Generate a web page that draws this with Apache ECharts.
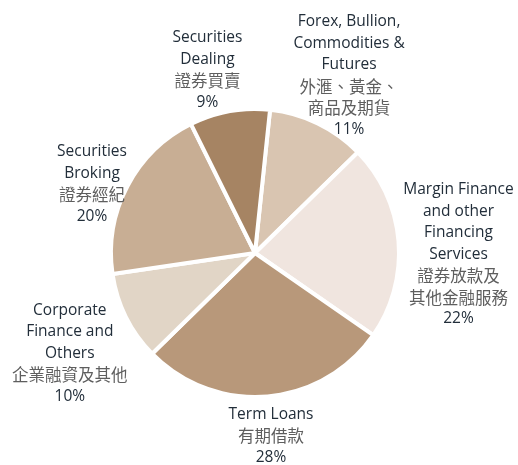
<!DOCTYPE html>
<html>
<head>
<meta charset="utf-8">
<script src="https://cdn.jsdelivr.net/npm/echarts@6/dist/echarts.min.js"></script>
<style>
  html, body { margin: 0; padding: 0; background: #fff; }
  #main { width: 518px; height: 465px; }
</style>
</head>
<body>
<div id="main"></div>
<script>
// segment shares, clockwise from the top
const namesEn = [
  'Forex, Bullion,\nCommodities &\nFutures',
  'Margin Finance\nand other\nFinancing\nServices',
  'Term Loans',
  'Corporate\nFinance and\nOthers',
  'Securities\nBroking',
  'Securities\nDealing'
]
const namesZh = [
  '外滙、黃金、\n商品及期貨',
  '證券放款及\n其他金融服務',
  '有期借款',
  '企業融資及其他',
  '證券經紀',
  '證券買賣'
]
const shares = [11, 22, 28, 10, 20, 9]
const colors = ['#d9c5b1', '#f0e5df', '#b8987a', '#e1d5c6', '#c8ae94', '#a68463']

const START = 84
const CX = 255
const CY = 253
const R = 144
const GAP = 5
// hand nudges for the label blocks [dx, dy]
const nudge = [[5, 15], [0, 20], [0, 2], [0, 10], [0, 20], [-15, 6]]

// mid angle of every slice, from the shares
const mids = []
let acc = START
shares.forEach((v) => {
  const a = v / 100 * 360
  mids.push(acc - a / 2)
  acc -= a
})

const chart = echarts.init(document.getElementById('main'))
chart.setOption({
  animation: false,
  series: [
    {
      type: 'pie',
      center: [CX, CY],
      radius: R,
      startAngle: START,
      clockwise: true,
      avoidLabelOverlap: false,
      itemStyle: { borderColor: '#fff', borderWidth: 4 },
      emphasis: { disabled: true },
      label: {
        show: true,
        position: 'outside',
        lineHeight: 21.5,
        formatter: p => `{en|${namesEn[p.dataIndex]}}\n{zh|${namesZh[p.dataIndex]}}\n{en|${p.value}%}`,
        rich: {
          en: { fontFamily: '"Open Sans", sans-serif', fontSize: 15.5, fontWeight: 500, color: '#222e3a', lineHeight: 21.5 },
          zh: { fontFamily: '"Noto Sans CJK TC", sans-serif', fontSize: 16.5, color: '#5e5e5e', lineHeight: 21.5 }
        }
      },
      labelLine: { show: false },
      labelLayout: (p) => {
        const i = p.dataIndex
        const t = mids[i] * Math.PI / 180
        const ux = Math.cos(t)
        const uy = -Math.sin(t)
        const w = p.labelRect.width
        const h = p.labelRect.height
        return {
          x: CX + ux * (R + GAP) + ux * w / 2 + nudge[i][0],
          y: CY + uy * (R + GAP) + uy * h / 2 + nudge[i][1],
          align: 'center',
          verticalAlign: 'middle'
        }
      },
      data: shares.map((v, i) => ({ value: v, name: namesEn[i], itemStyle: { color: colors[i] } }))
    }
  ]
})
</script>
</body>
</html>
